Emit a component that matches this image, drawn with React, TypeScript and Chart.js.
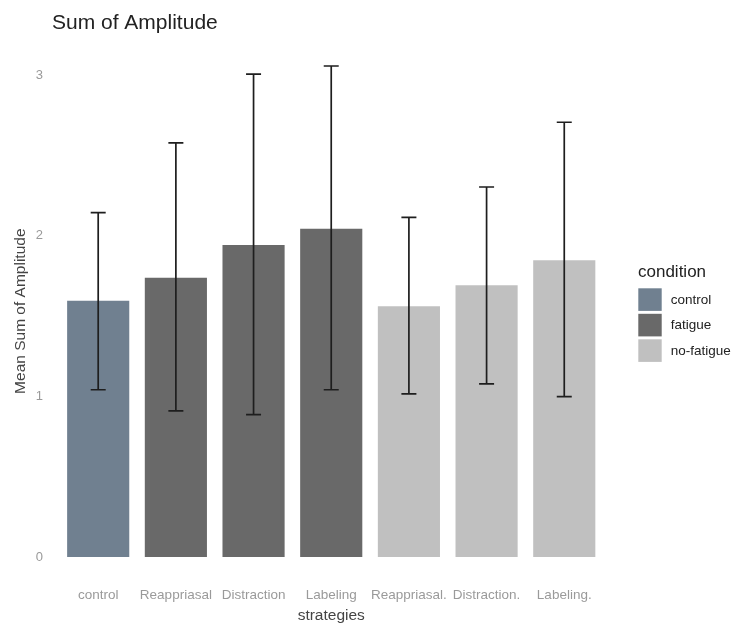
import React, { useEffect, useRef } from "react";
import { Chart, registerables } from "chart.js";

Chart.register(...registerables);

const categories = ["control", "Reappriasal", "Distraction", "Labeling", "Reappriasal.", "Distraction.", "Labeling."];
const conditionOf = ["control", "fatigue", "fatigue", "fatigue", "no-fatigue", "no-fatigue", "no-fatigue"];
const means = [1.595, 1.738, 1.942, 2.043, 1.56, 1.691, 1.847];
const upper = [2.143, 2.577, 3.006, 3.056, 2.114, 2.303, 2.706];
const lower = [1.041, 0.909, 0.886, 1.041, 1.015, 1.077, 0.998];
const conditions = ["control", "fatigue", "no-fatigue"];
const conditionColors = ["#708090", "#696969", "#C0C0C0"];
const yTicks = [0, 1, 2, 3];

const FONT = "'Liberation Sans', Arial, Helvetica, sans-serif";

const errorBarPlugin = {
  id: "errorBars",
  afterDatasetsDraw(chart: any) {
    const { ctx } = chart;
    const x = chart.scales.x;
    const y = chart.scales.y;
    ctx.save();
    ctx.strokeStyle = "#1e1e1e";
    ctx.lineWidth = 1.7;
    ctx.lineCap = "butt";
    categories.forEach((_, i) => {
      const px = x.getPixelForValue(i);
      const top = y.getPixelForValue(upper[i]);
      const bot = y.getPixelForValue(lower[i]);
      ctx.beginPath();
      ctx.moveTo(px, top);
      ctx.lineTo(px, bot);
      ctx.moveTo(px - 7.5, top);
      ctx.lineTo(px + 7.5, top);
      ctx.moveTo(px - 7.5, bot);
      ctx.lineTo(px + 7.5, bot);
      ctx.stroke();
    });
    ctx.restore();
  },
};

const decorPlugin = {
  id: "decor",
  afterDraw(chart: any) {
    const { ctx } = chart;
    ctx.save();
    // title
    ctx.fillStyle = "#222222";
    ctx.font = `21px ${FONT}`;
    ctx.textAlign = "left";
    ctx.textBaseline = "alphabetic";
    ctx.fillText("Sum of Amplitude", 52, 29);
    // legend
    ctx.font = `17px ${FONT}`;
    ctx.fillStyle = "#222222";
    ctx.fillText("condition", 638, 277);
    conditions.forEach((c, i) => {
      const top = 288.3 + i * 25.5;
      ctx.fillStyle = conditionColors[i];
      ctx.fillRect(638.3, top, 23.4, 22.6);
      ctx.fillStyle = "#222222";
      ctx.font = `13.5px ${FONT}`;
      ctx.textBaseline = "middle";
      ctx.fillText(c, 670.7, top + 11.8);
      ctx.textBaseline = "alphabetic";
    });
    ctx.restore();
  },
};

export default function App() {
  const ref = useRef<HTMLCanvasElement>(null);
  useEffect(() => {
    if (!ref.current) return;
    const chart = new Chart(ref.current, {
      type: "bar",
      data: {
        labels: categories,
        datasets: [
          {
            label: "mean",
            data: means,
            backgroundColor: conditionOf.map((c) => conditionColors[conditions.indexOf(c)]),
            borderWidth: 0,
            categoryPercentage: 1,
            barPercentage: 0.8,
          },
        ],
      },
      options: {
        animation: false,
        responsive: false,
        maintainAspectRatio: false,
        layout: { padding: { top: 41.25, right: 132.9, bottom: 0, left: 0 } },
        plugins: {
          legend: { display: false },
          title: { display: false },
          tooltip: { enabled: false },
        },
        scales: {
          x: {
            type: "category",
            offset: true,
            grid: { display: false, drawTicks: false },
            border: { display: false },
            ticks: {
              color: "#9a9a9a",
              font: { family: FONT, size: 13.5 },
              padding: 6.5,
              maxRotation: 0,
              autoSkip: false,
            },
            title: {
              display: true,
              text: "strategies",
              color: "#444444",
              font: { family: FONT, size: 15.5 },
              padding: { top: 0, bottom: 1 },
            },
            afterFit: (s: any) => {
              s.height = 44.9;
            },
          },
          y: {
            type: "linear",
            min: -0.15,
            max: 3.21,
            grid: { display: false, drawTicks: false },
            border: { display: false },
            ticks: {
              color: "#9a9a9a",
              font: { family: FONT, size: 13 },
              padding: 16.4,
            },
            afterBuildTicks: (s: any) => {
              s.ticks = yTicks.map((v) => ({ value: v }));
            },
            title: {
              display: true,
              text: "Mean Sum of Amplitude",
              color: "#444444",
              font: { family: FONT, size: 15.5 },
              padding: { top: 11.7, bottom: 0 },
            },
            afterFit: (s: any) => {
              s.width = 59.36;
            },
          },
        },
      },
      plugins: [errorBarPlugin, decorPlugin],
    });
    return () => chart.destroy();
  }, []);
  return (
    <div style={{ position: "fixed", left: 0, top: 0, width: 736, height: 626, background: "#ffffff" }}>
      <canvas ref={ref} width={736} height={626} style={{ width: 736, height: 626, display: "block" }} />
    </div>
  );
}
